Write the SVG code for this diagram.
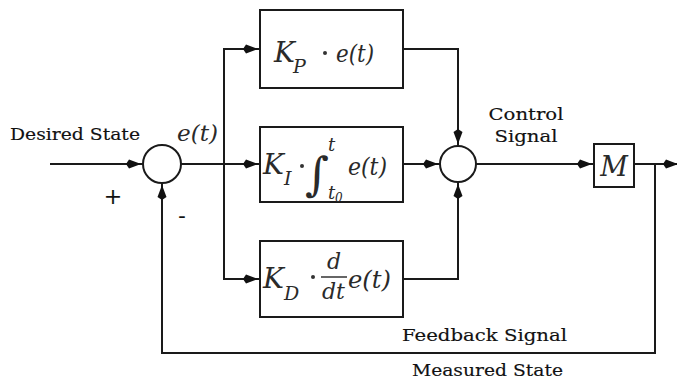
<svg xmlns="http://www.w3.org/2000/svg" width="677" height="380" viewBox="0 0 677 380">
<style>
.ln{fill:none;stroke:#1a1a1a;stroke-width:2}
.bx{fill:#fff;stroke:#1a1a1a;stroke-width:2}
.lbl{font-family:"DejaVu Serif","Liberation Serif",serif;fill:#111;stroke:#111;stroke-width:0.15}
.m{font-family:"DejaVu Serif","Liberation Serif",serif;font-style:italic;fill:#2a2a2a}
</style>
<defs>
<marker id="ar" markerUnits="userSpaceOnUse" markerWidth="20" markerHeight="12" refX="17" refY="5" orient="auto">
<path d="M0,5 L3,0.5 L15,5 L3,9.5 z" fill="#111"/>
</marker>
</defs>
<rect width="677" height="380" fill="#fff"/>
<g id="connectors">
<path class="ln" d="M50,164 H143" marker-end="url(#ar)"/>
<path class="ln" d="M181,164 H260" marker-end="url(#ar)"/>
<path class="ln" d="M224,164 V49 H260" marker-end="url(#ar)"/>
<path class="ln" d="M224,164 V279 H260" marker-end="url(#ar)"/>
<path class="ln" d="M403,49 H458 V146" marker-end="url(#ar)"/>
<path class="ln" d="M403,164 H440" marker-end="url(#ar)"/>
<path class="ln" d="M403,279 H458 V182" marker-end="url(#ar)"/>
<path class="ln" d="M476,164 H594" marker-end="url(#ar)"/>
<path class="ln" d="M634,164 H680" marker-end="url(#ar)"/>
<path class="ln" d="M655,164 V353 H162 V183" marker-end="url(#ar)"/>
</g>
<g id="sum1">
<circle class="bx" cx="162" cy="164" r="19"/>
<text class="lbl" x="113" y="204" text-anchor="middle" font-size="22">+</text>
<text class="lbl" x="182" y="223" text-anchor="middle" font-size="22">-</text>
</g>
<g id="input-label">
<text class="lbl" x="10" y="140" font-size="17" textLength="130" lengthAdjust="spacingAndGlyphs">Desired State</text>
<text class="m" x="177" y="141" font-size="23" textLength="41" lengthAdjust="spacingAndGlyphs">e(t)</text>
</g>
<g id="boxP">
<rect class="bx" x="260" y="10" width="143" height="78"/>
<text class="m" x="274" y="62" font-size="28">K</text>
<text class="m" x="293" y="73" font-size="19">P</text>
<circle cx="325" cy="53" r="2" fill="#333"/>
<text class="m" x="336" y="62" font-size="24" textLength="38" lengthAdjust="spacingAndGlyphs">e(t)</text>
</g>
<g id="boxI">
<rect class="bx" x="260" y="127" width="143" height="75"/>
<text class="m" x="263" y="174" font-size="28">K</text>
<text class="m" x="284" y="185" font-size="19">I</text>
<circle cx="302" cy="166" r="2" fill="#333"/>
<text class="m" x="305" y="190" font-size="46">∫</text>
<text class="m" x="328" y="151" font-size="18">t</text>
<text class="m" x="328" y="199" font-size="18">t</text>
<text class="m" x="335" y="202" font-size="12">0</text>
<text class="m" x="348" y="175" font-size="24" textLength="39" lengthAdjust="spacingAndGlyphs">e(t)</text>
</g>
<g id="boxD">
<rect class="bx" x="260" y="241" width="143" height="76"/>
<text class="m" x="263" y="288" font-size="28">K</text>
<text class="m" x="284" y="300" font-size="19">D</text>
<circle cx="313" cy="277" r="2" fill="#333"/>
<text class="m" x="327" y="269" font-size="22">d</text>
<line x1="321" y1="277" x2="347" y2="277" stroke="#333" stroke-width="1.5"/>
<text class="m" x="322" y="299" font-size="22">dt</text>
<text class="m" x="348" y="288" font-size="24" textLength="43" lengthAdjust="spacingAndGlyphs">e(t)</text>
</g>
<g id="sum2">
<circle class="bx" cx="458" cy="164" r="18"/>
</g>
<g id="control-label">
<text class="lbl" x="526" y="120" font-size="17" text-anchor="middle" textLength="75" lengthAdjust="spacingAndGlyphs">Control</text>
<text class="lbl" x="526" y="142" font-size="17" text-anchor="middle" textLength="63" lengthAdjust="spacingAndGlyphs">Signal</text>
</g>
<g id="plantM">
<rect class="bx" x="594" y="144" width="40" height="43"/>
<text class="m" x="614" y="176" text-anchor="middle" font-size="27">M</text>
</g>
<g id="feedback-labels">
<text class="lbl" x="402" y="341" font-size="17" textLength="165" lengthAdjust="spacingAndGlyphs">Feedback Signal</text>
<text class="lbl" x="412" y="376" font-size="17" textLength="151" lengthAdjust="spacingAndGlyphs">Measured State</text>
</g>
</svg>
